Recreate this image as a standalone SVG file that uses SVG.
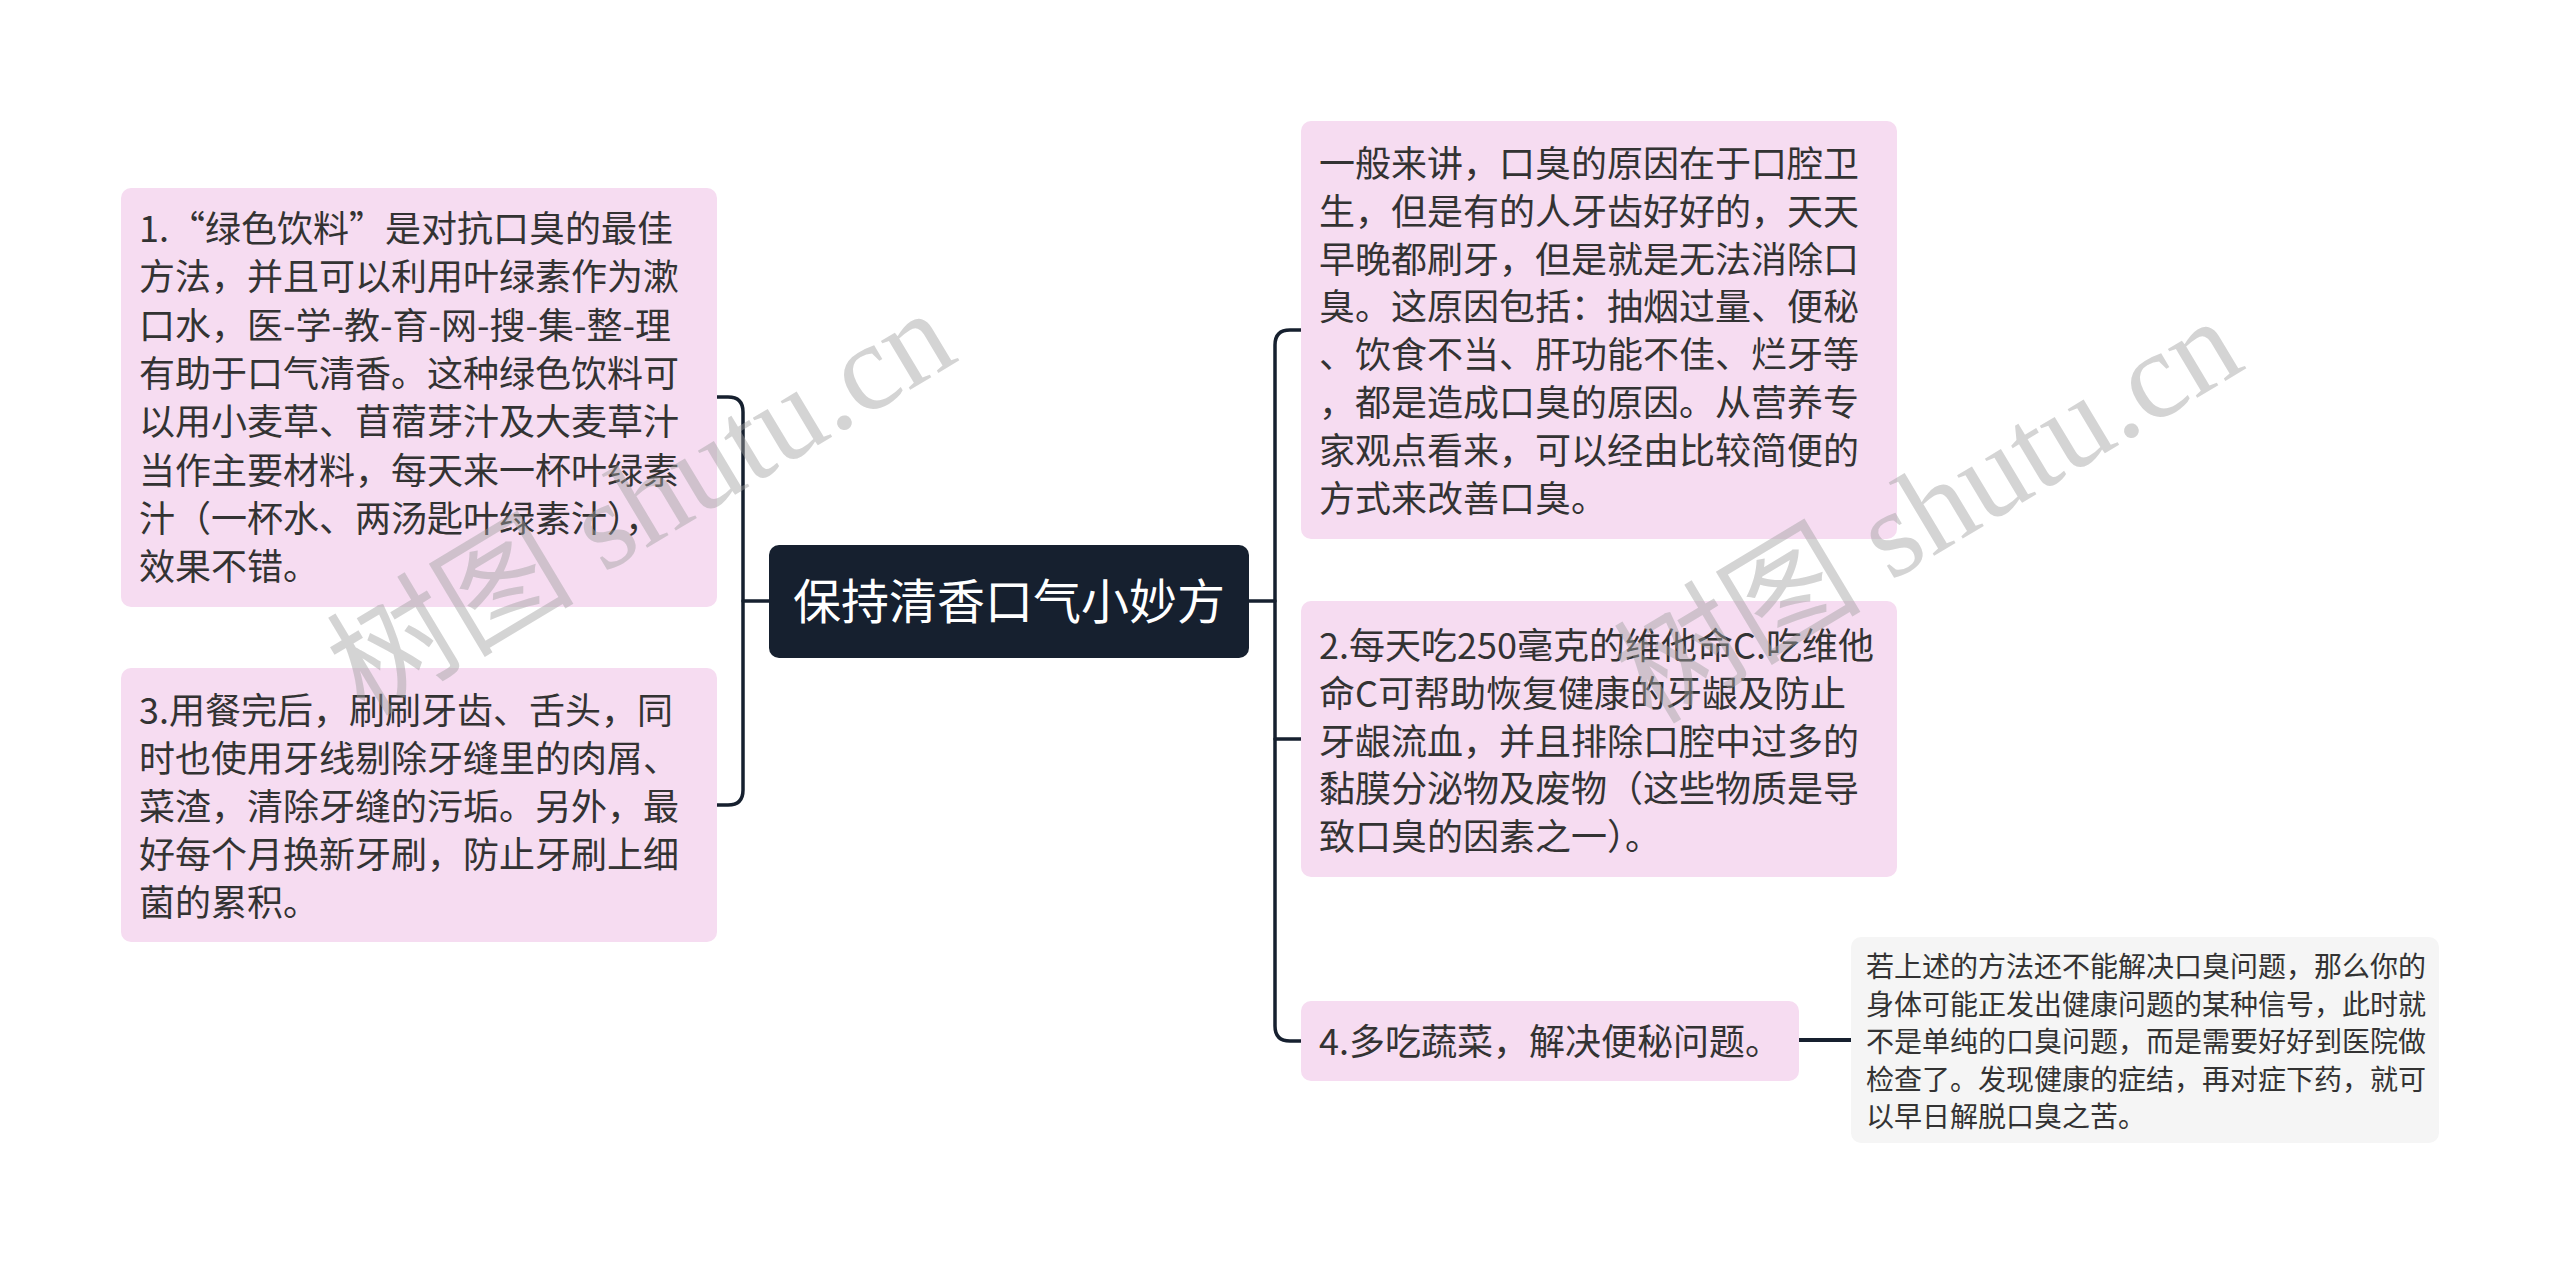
<svg xmlns="http://www.w3.org/2000/svg" width="2560" height="1265" viewBox="0 0 2560 1265">
<style>
.node{fill:#f6dcf1}
.t{font-family:"Noto Sans CJK SC","Noto Sans",sans-serif;font-size:36px;fill:#333333}
.s{font-family:"Noto Sans CJK SC","Noto Sans",sans-serif;font-size:28px;fill:#333333}
.c{font-family:"Noto Sans CJK SC","Noto Sans",sans-serif;font-size:48px;fill:#ffffff}
.line{fill:none;stroke:#16202f;stroke-width:3.5;stroke-linecap:round}
.wm{font-family:"Liberation Serif","Noto Sans CJK SC",serif;font-size:124px;fill:#a0a0a0;fill-opacity:0.45}
</style>
<rect width="2560" height="1265" fill="#ffffff"/>
<g id="connectors">
<path class="line" d="M717,397 H728 Q743,397 743,412 V790 Q743,805 728,805 H717"/>
<path class="line" d="M743,601 H769"/>
<path class="line" d="M1301,330 H1290 Q1275,330 1275,345 V1026 Q1275,1041 1290,1041 H1301"/>
<path class="line" d="M1275,739 H1301"/>
<path class="line" d="M1249,601 H1275"/>
<path class="line" d="M1799,1040 H1851" style="stroke-width:4"/>
</g>
<g id="center">
<rect x="769" y="545" width="480" height="113" rx="10" fill="#16202f"/>
<text class="c" x="793" y="619">保持清香口气小妙方</text>
</g>
<g id="node-l1">
<rect class="node" x="121" y="188" width="596" height="419" rx="10"/>
<text class="t">
<tspan x="139" y="242">1.“绿色饮料”是对抗口臭的最佳</tspan>
<tspan x="139" dy="48.3">方法，并且可以利用叶绿素作为漱</tspan>
<tspan x="139" dy="48.3">口水，医-学-教-育-网-搜-集-整-理</tspan>
<tspan x="139" dy="48.3">有助于口气清香。这种绿色饮料可</tspan>
<tspan x="139" dy="48.3">以用小麦草、苜蓿芽汁及大麦草汁</tspan>
<tspan x="139" dy="48.3">当作主要材料，每天来一杯叶绿素</tspan>
<tspan x="139" dy="48.3">汁（一杯水、两汤匙叶绿素汁），</tspan>
<tspan x="139" dy="48.3">效果不错。</tspan>
</text>
</g>
<g id="node-l3">
<rect class="node" x="121" y="668" width="596" height="274" rx="10"/>
<text class="t">
<tspan x="139" y="724">3.用餐完后，刷刷牙齿、舌头，同</tspan>
<tspan x="139" dy="48">时也使用牙线剔除牙缝里的肉屑、</tspan>
<tspan x="139" dy="48">菜渣，清除牙缝的污垢。另外，最</tspan>
<tspan x="139" dy="48">好每个月换新牙刷，防止牙刷上细</tspan>
<tspan x="139" dy="48">菌的累积。</tspan>
</text>
</g>
<g id="node-r1">
<rect class="node" x="1301" y="121" width="596" height="418" rx="10"/>
<text class="t">
<tspan x="1319" y="177">一般来讲，口臭的原因在于口腔卫</tspan>
<tspan x="1319" dy="47.8">生，但是有的人牙齿好好的，天天</tspan>
<tspan x="1319" dy="47.8">早晚都刷牙，但是就是无法消除口</tspan>
<tspan x="1319" dy="47.8">臭。这原因包括：抽烟过量、便秘</tspan>
<tspan x="1319" dy="47.8">、饮食不当、肝功能不佳、烂牙等</tspan>
<tspan x="1319" dy="47.8">，都是造成口臭的原因。从营养专</tspan>
<tspan x="1319" dy="47.8">家观点看来，可以经由比较简便的</tspan>
<tspan x="1319" dy="47.8">方式来改善口臭。</tspan>
</text>
</g>
<g id="node-r2">
<rect class="node" x="1301" y="601" width="596" height="276" rx="10"/>
<text class="t">
<tspan x="1319" y="659">2.每天吃250毫克的维他命C.吃维他</tspan>
<tspan x="1319" dy="47.8">命C可帮助恢复健康的牙龈及防止</tspan>
<tspan x="1319" dy="47.8">牙龈流血，并且排除口腔中过多的</tspan>
<tspan x="1319" dy="47.8">黏膜分泌物及废物（这些物质是导</tspan>
<tspan x="1319" dy="47.8">致口臭的因素之一）。</tspan>
</text>
</g>
<g id="node-r4">
<rect class="node" x="1301" y="1001" width="498" height="80" rx="10"/>
<text class="t" x="1319" y="1055">4.多吃蔬菜，解决便秘问题。</text>
</g>
<g id="node-sub">
<rect x="1851" y="937" width="588" height="206" rx="10" fill="#f5f5f5"/>
<text class="s">
<tspan x="1866" y="977">若上述的方法还不能解决口臭问题，那么你的</tspan>
<tspan x="1866" dy="37.6">身体可能正发出健康问题的某种信号，此时就</tspan>
<tspan x="1866" dy="37.6">不是单纯的口臭问题，而是需要好好到医院做</tspan>
<tspan x="1866" dy="37.6">检查了。发现健康的症结，再对症下药，就可</tspan>
<tspan x="1866" dy="37.6">以早日解脱口臭之苦。</tspan>
</text>
</g>
<g id="watermark">
<text class="wm" x="648" y="514" text-anchor="middle" dominant-baseline="middle" transform="rotate(-31 648 514)">树图 shutu.cn</text>
<text class="wm" x="1935" y="522" text-anchor="middle" dominant-baseline="middle" transform="rotate(-31 1935 522)">树图 shutu.cn</text>
</g>
</svg>
